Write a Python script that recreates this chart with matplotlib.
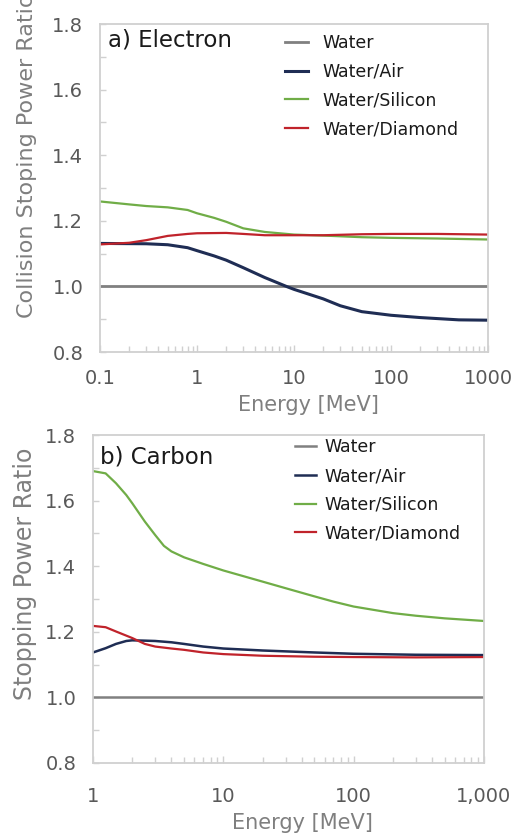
import matplotlib
matplotlib.use("Agg")
import matplotlib.pyplot as plt
from matplotlib.ticker import FixedLocator, NullFormatter, LogLocator

plt.rcParams['font.family'] = ['DejaVu Sans']

# ---------------- data: (a) Electron ----------------
e_energy_si = [0.1, 0.2, 0.3, 0.5, 0.8, 1, 1.5, 2, 3, 5, 10, 20, 50, 100, 300, 1000]
e_si = [1.259, 1.250, 1.245, 1.241, 1.233, 1.223, 1.209, 1.197, 1.177, 1.166, 1.158, 1.155, 1.150, 1.148, 1.146, 1.143]

e_energy_dia = [0.1, 0.2, 0.3, 0.5, 0.8, 1, 2, 3, 5, 10, 20, 50, 100, 300, 1000]
e_dia = [1.128, 1.133, 1.141, 1.154, 1.160, 1.162, 1.163, 1.160, 1.156, 1.156, 1.156, 1.159, 1.160, 1.160, 1.158]

e_energy_air = [0.1, 0.3, 0.5, 0.8, 1, 1.5, 2, 3, 5, 8.5, 10, 20, 30, 50, 100, 200, 500, 1000]
e_air = [1.131, 1.130, 1.127, 1.118, 1.109, 1.093, 1.080, 1.057, 1.027, 0.999, 0.991, 0.962, 0.941, 0.923, 0.912, 0.905, 0.898, 0.897]

e_energy_water = [0.1, 1000]
e_water = [1.0, 1.0]

# ---------------- data: (b) Carbon ----------------
c_energy_si = [1, 1.25, 1.5, 1.8, 2, 2.5, 3, 3.5, 4, 5, 7, 10, 20, 30, 50, 70, 100, 200, 300, 500, 1000]
c_si = [1.690, 1.683, 1.653, 1.617, 1.592, 1.536, 1.495, 1.462, 1.445, 1.427, 1.407, 1.387, 1.353, 1.333, 1.308, 1.292, 1.277, 1.257, 1.249, 1.241, 1.233]

c_energy_dia = [1, 1.25, 1.5, 2, 2.5, 3, 4, 5, 7, 10, 20, 50, 100, 300, 1000]
c_dia = [1.218, 1.214, 1.201, 1.181, 1.163, 1.155, 1.149, 1.145, 1.137, 1.132, 1.127, 1.124, 1.123, 1.122, 1.123]

c_energy_air = [1, 1.25, 1.5, 1.8, 2, 2.5, 3, 4, 5, 7, 10, 20, 50, 100, 300, 1000]
c_air = [1.137, 1.150, 1.163, 1.172, 1.174, 1.173, 1.172, 1.168, 1.163, 1.155, 1.149, 1.143, 1.137, 1.133, 1.130, 1.129]

c_energy_water = [1, 1000]
c_water = [1.0, 1.0]

series_labels = ["Water", "Water/Air", "Water/Silicon", "Water/Diamond"]

top_xticks = [0.1, 1, 10, 100, 1000]
top_xticklabels = ["0.1", "1", "10", "100", "1000"]
bot_xticks = [1, 10, 100, 1000]
bot_xticklabels = ["1", "10", "100", "1,000"]
yticks = [0.8, 1.0, 1.2, 1.4, 1.6, 1.8]
yticklabels = ["0.8", "1.0", "1.2", "1.4", "1.6", "1.8"]

C_WATER = "#808080"
C_AIR = "#1F2D54"
C_SI = "#70AD47"
C_DIA = "#C0232B"
SPINE = "#D0D0D0"
TICKLBL = "#595959"
AXLBL = "#7F7F7F"

W, H = 522, 835
fig = plt.figure(figsize=(W / 100, H / 100), dpi=100)

def px_axes(l, t, r, b):
    return fig.add_axes([l / W, 1 - b / H, (r - l) / W, (b - t) / H])

ax1 = px_axes(100, 24, 488, 352)
ax2 = px_axes(93, 435, 484, 763)

def style(ax, xlim, xticks, xticklabels, xpad):
    ax.set_xscale('log')
    ax.set_xlim(*xlim)
    ax.set_ylim(0.8, 1.8)
    for s in ax.spines.values():
        s.set_color(SPINE)
        s.set_linewidth(1.3)
    ax.xaxis.set_major_locator(FixedLocator(xticks))
    ax.set_xticklabels(xticklabels)
    ax.xaxis.set_minor_locator(LogLocator(base=10, subs=range(2, 10)))
    ax.xaxis.set_minor_formatter(NullFormatter())
    ax.set_yticks(yticks)
    ax.set_yticklabels(yticklabels)
    ax.yaxis.set_minor_locator(FixedLocator([0.9, 1.1, 1.3, 1.5, 1.7]))
    ax.tick_params(axis='both', which='both', direction='in', color=SPINE,
                   width=1.0, labelcolor=TICKLBL, labelsize=14)
    ax.tick_params(axis='x', which='major', length=5, pad=xpad)
    ax.tick_params(axis='x', which='minor', length=4)
    ax.tick_params(axis='y', which='both', length=4, pad=12)
    ax.tick_params(top=False, right=False, which='both')

# ---- panel a ----
style(ax1, (0.1, 1000), top_xticks, top_xticklabels, 12)
ax1.plot(e_energy_water, e_water, color=C_WATER, lw=2.0, label=series_labels[0])
ax1.plot(e_energy_air, e_air, color=C_AIR, lw=2.2, label=series_labels[1])
ax1.plot(e_energy_si, e_si, color=C_SI, lw=1.6, label=series_labels[2])
ax1.plot(e_energy_dia, e_dia, color=C_DIA, lw=1.6, label=series_labels[3])
ax1.text(0.021, 0.951, "a) Electron", transform=ax1.transAxes, fontsize=16.5,
         va='center', ha='left', color='#1a1a1a')
leg1 = ax1.legend(loc='upper left', bbox_to_anchor=(0.477, 0.970), frameon=False,
                  fontsize=12.5, handlelength=1.3, handletextpad=0.85,
                  labelspacing=0.62, borderpad=0, borderaxespad=0)
for t in leg1.get_texts():
    t.set_color('#1a1a1a')
ax1.set_xlabel("Energy [MeV]", fontsize=15, color=AXLBL)
ax1.xaxis.set_label_coords(0.536, -0.13)
ax1.set_ylabel("Collision Stoping Power Ratio", fontsize=16, color=AXLBL, ha='left')
ax1.yaxis.set_label_coords(-0.162, 0.104)

# ---- panel b ----
style(ax2, (1, 1000), bot_xticks, bot_xticklabels, 17)
ax2.plot(c_energy_water, c_water, color=C_WATER, lw=1.8, label=series_labels[0])
ax2.plot(c_energy_air, c_air, color=C_AIR, lw=1.8, label=series_labels[1])
ax2.plot(c_energy_si, c_si, color=C_SI, lw=1.6, label=series_labels[2])
ax2.plot(c_energy_dia, c_dia, color=C_DIA, lw=1.6, label=series_labels[3])
ax2.text(0.018, 0.933, "b) Carbon", transform=ax2.transAxes, fontsize=16.5,
         va='center', ha='left', color='#1a1a1a')
leg2 = ax2.legend(loc='upper left', bbox_to_anchor=(0.517, 0.990), frameon=False,
                  fontsize=12.5, handlelength=1.2, handletextpad=0.5,
                  labelspacing=0.62, borderpad=0, borderaxespad=0)
for t in leg2.get_texts():
    t.set_color('#1a1a1a')
ax2.set_xlabel("Energy [MeV]", fontsize=15, color=AXLBL)
ax2.xaxis.set_label_coords(0.535, -0.152)
ax2.set_ylabel("Stopping Power Ratio", fontsize=17, color=AXLBL, ha='left')
ax2.yaxis.set_label_coords(-0.143, 0.192)

fig.savefig("out.png", dpi=100)
